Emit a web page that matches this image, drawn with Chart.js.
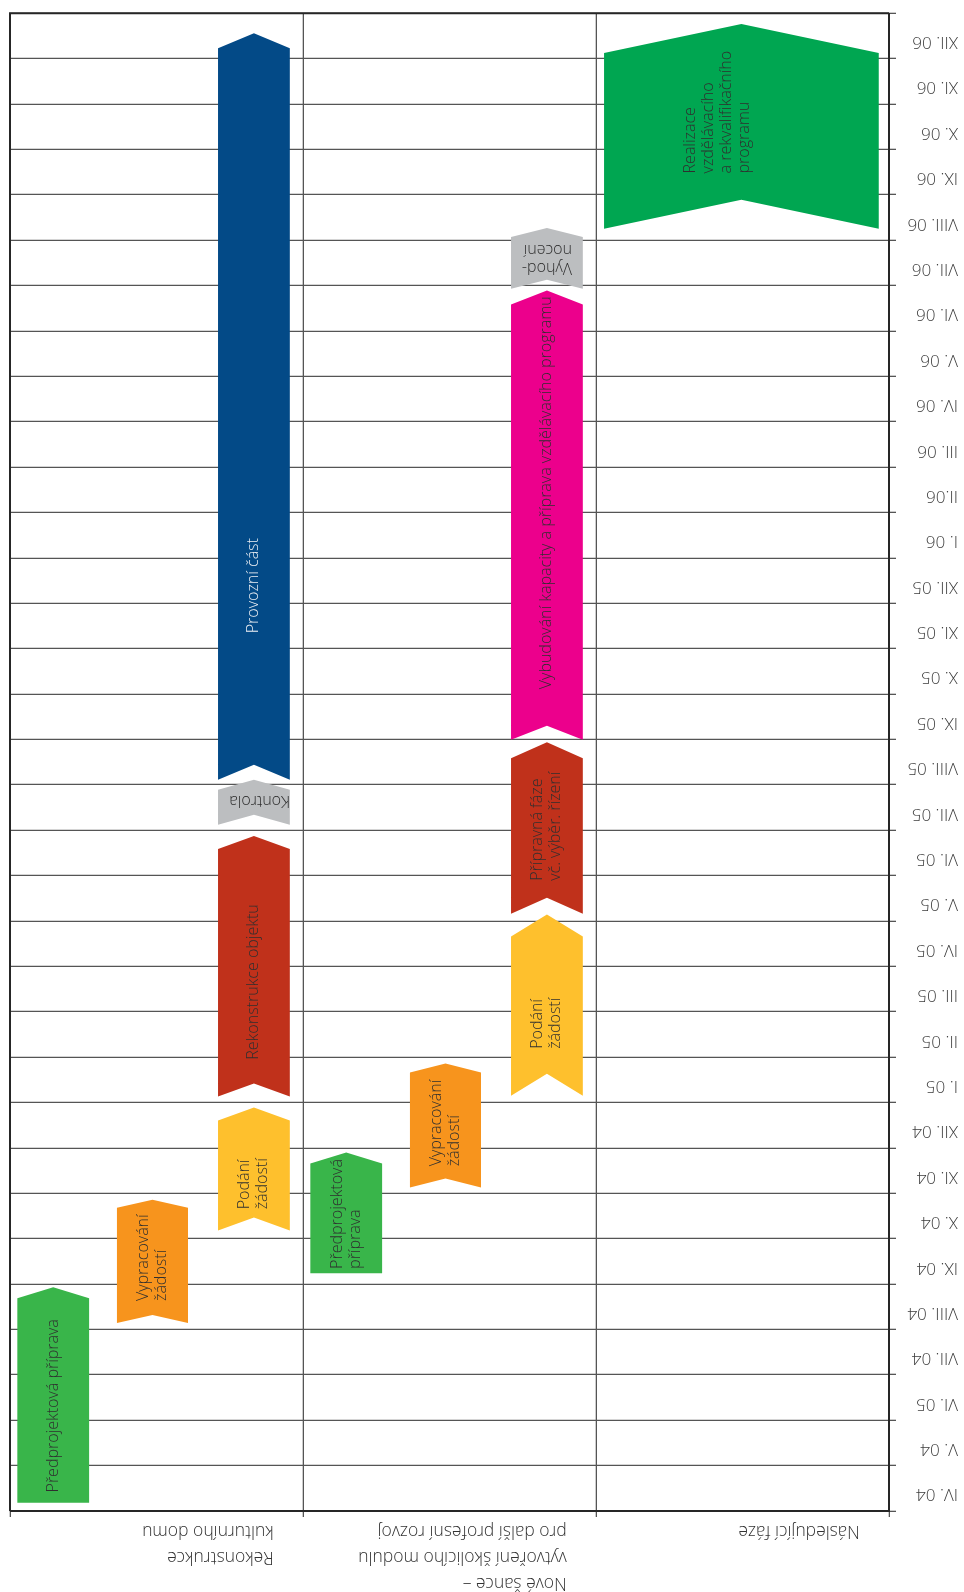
<!DOCTYPE html>
<html lang="cs">
<head>
<meta charset="UTF-8">
<title>Harmonogram projektu</title>
<script src="https://cdn.jsdelivr.net/npm/chart.js"></script>
<style>
  html, body { margin: 0; padding: 0; background: #fff; overflow: hidden; }
  /* the printed chart is turned upside down, so the whole canvas is rotated */
  .wrap { position: absolute; left: 0; top: 0; width: 964px; height: 1592px; transform: rotate(180deg); }
  canvas { display: block; }
</style>
</head>
<body>
<div class="wrap"><canvas id="plan" width="964" height="1592" style="width:964px;height:1592px"></canvas></div>
<script>
  // months, first row = IV. 04 (labels as printed, incl. "VI. 05" and "II.06")
  const months = ['IV. 04', 'V. 04', 'VI. 05', 'VII. 04', 'VIII. 04', 'IX. 04', 'X. 04', 'XI. 04', 'XII. 04',
    'I. 05', 'II. 05', 'III. 05', 'IV. 05', 'V. 05', 'VI. 05', 'VII. 05', 'VIII. 05', 'IX. 05', 'X. 05', 'XI. 05', 'XII. 05',
    'I. 06', 'II.06', 'III. 06', 'IV. 06', 'V. 06', 'VI. 06', 'VII. 06', 'VIII. 06', 'IX. 06', 'X. 06', 'XI. 06', 'XII. 06'];

  const columns = [
    ['Rekonstrukce', 'kulturního domu'],
    ['Nové šance –', 'vytvoření školicího modulu', 'pro další profesní rozvoj'],
    ['Následující fáze']
  ];

  const taskNames = [
    ['Předprojektová příprava'],
    ['Vypracování', 'žádostí'],
    ['Podání', 'žádostí'],
    ['Rekonstrukce objektu'],
    ['Kontrola'],
    ['Provozní část'],
    ['Předprojektová', 'příprava'],
    ['Vypracování', 'žádostí'],
    ['Podání', 'žádostí'],
    ['Přípravná fáze', 'vč. výběr. řízení'],
    ['Vybudování kapacity a příprava vzdělávacího programu'],
    ['Vyhod-', 'nocení'],
    ['Realizace', 'vzdělávacího', 'a rekvalifikačního', 'programu']
  ];
  const taskColumn = [0, 0, 0, 0, 0, 0, 1, 1, 1, 1, 1, 1, 2];
  const taskLane   = [0, 1, 2, 2, 2, 2, 0, 1, 2, 2, 2, 2, 3];
  // in months from the start of IV. 04
  const taskStart  = [0.18, 4.14, 6.18, 9.13, 15.12, 16.11, 5.24, 7.13, 9.15, 13.16, 16.99, 26.93, 28.25];
  const taskEnd    = [4.93, 6.86, 8.89, 14.87, 16.11, 32.56, 7.90, 9.86, 13.14, 16.94, 26.89, 28.27, 32.76];

  // look of the arrows
  const laneSpans  = [[0.10, 1.08], [1.46, 2.43], [2.84, 3.82], [0.11, 3.86]];
  const taskColors = ['#39b54a', '#f7941d', '#fec02d', '#c0311b', '#bcbec0', '#034a87',
                      '#39b54a', '#f7941d', '#fec02d', '#c0311b', '#ec008c', '#bcbec0', '#00a651'];
  const tipDepth   = [11, 8, 13, 13, 10, 15, 11, 9, 22, 16, 14, 9, 29];
  const flatBase   = [true, false, false, false, false, false, true, false, false, false, false, false, false];
  const labelPos   = [0.45, 0.53, 0.38, 0.44, 0.53, 0.26, 0.49, 0.52, 0.40, 0.51, 0.55, 0.49, 0.57];
  const labelNudge = [0, 0, 0, 0, 0.08, 0, 0, 0, 0, 0, 0, 0, -0.33];
  const horizontal = [false, false, false, false, true, false, false, false, false, false, false, true, false];

  const FONT = '"Open Sans", "DejaVu Sans", sans-serif';

  const chevrons = {
    id: 'chevrons',
    afterDatasetsDraw(chart) {
      const ctx = chart.ctx;
      const xs = chart.scales.x, ys = chart.scales.y;
      ctx.save();
      taskNames.forEach((lines, i) => {
        const span = laneSpans[taskLane[i]];
        const base = taskColumn[i] * 4;
        const a = xs.getPixelForValue(base + span[0]);
        const b = xs.getPixelForValue(base + span[1]);
        const x1 = Math.min(a, b), x2 = Math.max(a, b), cx = (x1 + x2) / 2;
        const y0 = ys.getPixelForValue(taskStart[i] - 0.5);
        const y1 = ys.getPixelForValue(taskEnd[i] - 0.5);
        const d = tipDepth[i];

        ctx.beginPath();
        ctx.moveTo(x1, y0);
        if (!flatBase[i]) ctx.lineTo(cx, y0 + d);
        ctx.lineTo(x2, y0);
        ctx.lineTo(x2, y1 - d);
        ctx.lineTo(cx, y1);
        ctx.lineTo(x1, y1 - d);
        ctx.closePath();
        ctx.fillStyle = taskColors[i];
        ctx.fill();

        ctx.font = '300 16px ' + FONT;
        ctx.fillStyle = taskColors[i] === '#034a87' ? '#eef0f4' : '#2f2f2f';
        ctx.textAlign = 'left';
        ctx.textBaseline = 'middle';
        const w = Math.max(...lines.map(l => ctx.measureText(l).width));
        const lh = 18;
        const tx = xs.getPixelForValue(base + (span[0] + span[1]) / 2 + labelNudge[i]);
        ctx.save();
        ctx.translate(tx, y0 + labelPos[i] * (y1 - y0));
        if (!horizontal[i]) ctx.rotate(Math.PI / 2);
        lines.forEach((l, k) => ctx.fillText(l, -w / 2, (k - (lines.length - 1) / 2) * lh));
        ctx.restore();
      });
      ctx.restore();
    },
    afterDraw(chart) {
      const ctx = chart.ctx, area = chart.chartArea, xs = chart.scales.x;
      ctx.save();
      // closing frame lines
      ctx.strokeStyle = '#262626';
      ctx.lineWidth = 2;
      ctx.beginPath();
      ctx.moveTo(area.right, area.top);
      ctx.lineTo(area.right, area.bottom);
      ctx.lineTo(area.left, area.bottom);
      ctx.stroke();
      // column headers
      ctx.font = '300 17.5px ' + FONT;
      ctx.fillStyle = '#333';
      ctx.textAlign = 'left';
      ctx.textBaseline = 'middle';
      columns.forEach((lines, c) => {
        const x = xs.getPixelForValue(c * 4 + 3.6);
        lines.forEach((l, k) => ctx.fillText(l, x, 61 - (lines.length - 1 - k) * 26));
      });
      ctx.restore();
    }
  };

  new Chart(document.getElementById('plan'), {
    type: 'scatter',
    data: { labels: months, datasets: [{ data: [] }] },
    options: {
      responsive: false,
      animation: false,
      layout: { padding: { left: 6, right: 10, top: 0, bottom: 11 } },
      plugins: { legend: { display: false }, tooltip: { enabled: false } },
      scales: {
        x: {
          type: 'linear',
          position: 'top',
          min: 0,
          max: 12,
          offset: false,
          reverse: true,
          afterBuildTicks: s => { s.ticks = [0, 4, 8, 12].map(v => ({ value: v })); },
          afterFit: s => { s.height = 81; },
          ticks: { display: false },
          grid: { offset: false, color: '#555', lineWidth: 1.3, tickLength: 6 },
          border: { color: '#262626', width: 2 }
        },
        y: {
          type: 'category',
          position: 'left',
          offset: true,
          afterFit: s => { s.width = 69; },
          ticks: {
            crossAlign: 'far',
            labelOffset: -6,
            color: '#3c3c3c',
            font: { family: FONT, size: 17, weight: 300 }
          },
          grid: { offset: true, color: '#555', lineWidth: 1.3, tickLength: 7 },
          border: { color: '#262626', width: 2 }
        }
      }
    },
    plugins: [chevrons]
  });
</script>
</body>
</html>
